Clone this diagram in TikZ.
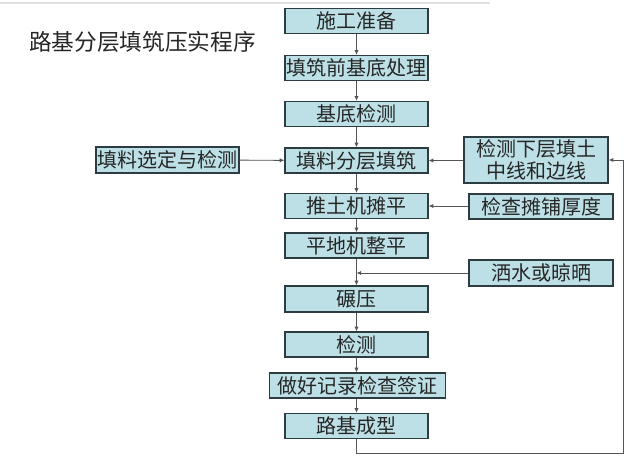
\documentclass[tikz,border=0pt]{standalone}
\usepackage{fontspec}
\setmainfont{Noto Sans CJK SC}
\usepackage{xcolor}
\usepackage{tikz}
\usetikzlibrary{arrows.meta,positioning}
\definecolor{boxfill}{RGB}{188,224,229}
\definecolor{boxline}{RGB}{45,60,65}
\definecolor{flowline}{RGB}{85,85,85}
\tikzset{% 
  stage box/.style={%
    draw=boxline,
    fill=boxfill,
    line width=0.9pt,
    inner sep=1pt,
    minimum width=107.25pt,
    minimum height=18.75pt,
    text=black!85,
    font=\fontsize{15}{17}\selectfont
  }
}
\tikzset{% 
  flow directed/.style={%
    draw=flowline,
    line width=0.7pt,
    -{Latex[length=3.5pt,width=3.2pt]}
  }
}
\tikzset{% 
  flow undirected/.style={%
    draw=flowline,
    line width=0.7pt
  }
}

\begin{document}
\begin{tikzpicture}[x=0.75pt,y=-0.75pt]
  \useasboundingbox (0,0) rectangle (640,457);
  \draw [black!12, line width=1.2pt] (0,3) -- (490,3);
  \node [font=\fontsize{17}{19}\selectfont, text=black!85] (title) at (142.5, 42) {路基分层填筑压实程序};
  \node [stage box] (prep) at (356.5, 21) {施工准备};
  \node [stage box] (pretreat) at (356.5, 68) {填筑前基底处理};
  \node [stage box] (basecheck) at (356.5, 114) {基底检测};
  \node [stage box] (layer) at (356.5, 160.5) {填料分层填筑};
  \node [stage box] (doze) at (356.5, 206) {推土机摊平};
  \node [stage box] (grade) at (356.5, 245.5) {平地机整平};
  \node [stage box, minimum height=19.5pt] (roll) at (356.5, 299) {碾压};
  \node [stage box] (test) at (356.5, 344.5) {检测};
  \node [stage box, minimum width=132pt] (record) at (357.5, 385.5) {做好记录检查签证};
  \node [stage box] (finish) at (356.5, 426) {路基成型};
  \node [stage box, minimum height=19.5pt] (select) at (167.5, 160) {填料选定与检测};
  \node [stage box, minimum width=108pt, minimum height=34.5pt, align=center] (lower) at (536, 160) {检测下层填土\\中线和边线};
  \node [stage box, minimum width=108pt] (thick) at (541, 206.5) {检查摊铺厚度};
  \node [stage box, minimum width=108pt, minimum height=19.5pt] (water) at (541, 273) {洒水或晾晒};
  \coordinate (join) at (grade.south |- water.west);
  \coordinate (loopbr) at (623, 453);
  \draw [flow directed] (prep) -- (pretreat);
  \draw [flow directed] (pretreat) -- (basecheck);
  \draw [flow directed] (basecheck) -- (layer);
  \draw [flow directed] (layer) -- (doze);
  \draw [flow directed] (doze) -- (grade);
  \draw [flow directed] (grade) -- (roll);
  \draw [flow directed] (roll) -- (test);
  \draw [flow directed] (test.south) -- (record.north -| test.south);
  \draw [flow directed] (record.south -| finish.north) -- (finish.north);
  \draw [flow directed] (select) -- (layer);
  \draw [flow directed] (lower.west |- layer.east) -- (layer.east);
  \draw [flow directed] (thick.west |- doze.east) -- (doze.east);
  \draw [flow directed] (water.west) -- (join);
  \draw [flow directed] (finish.south) |- (loopbr) |- (lower.east);
\end{tikzpicture}
\end{document}
